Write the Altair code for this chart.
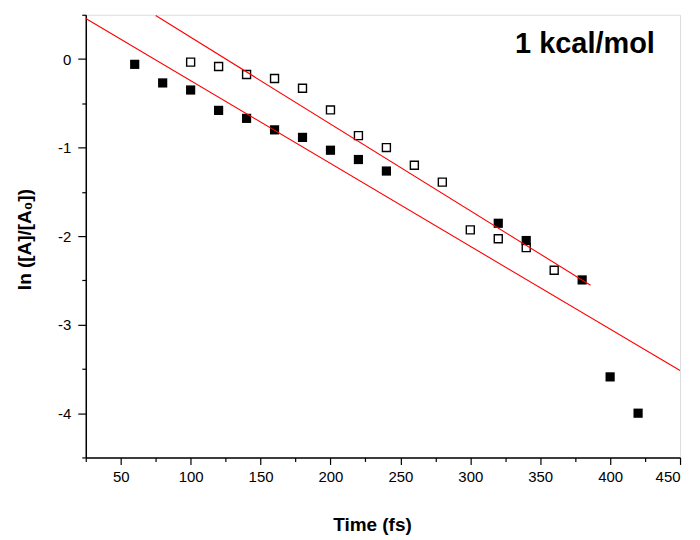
import altair as alt
import pandas as pd

# ---- data ----
time_filled = [60, 80, 100, 120, 140, 160, 180, 200, 220, 240, 320, 340, 380, 400, 420]
ln_filled = [-0.06, -0.27, -0.35, -0.58, -0.67, -0.80, -0.885, -1.03, -1.135, -1.265,
             -1.855, -2.05, -2.495, -3.59, -4.0]

time_open = [100, 120, 140, 160, 180, 200, 220, 240, 260, 280, 300, 320, 340, 360]
ln_open = [-0.035, -0.085, -0.175, -0.22, -0.33, -0.575, -0.865, -1.0, -1.2, -1.39,
           -1.93, -2.03, -2.13, -2.385]

fit_lower_time = [25, 450]
fit_lower_ln = [0.457, -3.518]
fit_upper_time = [75, 386]
fit_upper_ln = [0.491, -2.555]

label_text = ["1 kcal/mol"]
label_time = [332]
label_ln = [0.07]

x_major = [50, 100, 150, 200, 250, 300, 350, 400, 450]
x_minor = [25, 75, 125, 175, 225, 275, 325, 375, 425]
y_major = [0, -1, -2, -3, -4]
y_minor = [0.5, -0.5, -1.5, -2.5, -3.5, -4.5]

# ---- tables ----
df_filled = pd.DataFrame({"t": time_filled, "v": ln_filled})
df_open = pd.DataFrame({"t": time_open, "v": ln_open})
df_fit = pd.DataFrame({
    "t": fit_lower_time + fit_upper_time,
    "v": fit_lower_ln + fit_upper_ln,
    "fit": ["lower"] * len(fit_lower_time) + ["upper"] * len(fit_upper_time),
})
df_label = pd.DataFrame({"t": label_time, "v": label_ln, "txt": label_text})

FONT = "Liberation Sans"
x_scale = alt.Scale(domain=[25, 450], nice=False, zero=False)
y_scale = alt.Scale(domain=[-4.5, 0.5], nice=False, zero=False)

minus_fix = "replace(datum.label, '\u2212', '-')"

x_axis_major = alt.Axis(
    orient="bottom", values=x_major, grid=False,
    tickSize=7, tickWidth=1.2, tickColor="black",
    domainColor="black", domainWidth=1.5,
    labelFont=FONT, labelFontSize=15, labelColor="black", labelPadding=5,
    title="Time (fs)", titleFont=FONT, titleFontSize=19, titleFontWeight="bold",
    titleColor="black", titleX=287, titleY=58, titleAlign="center", titleBaseline="top",
)
y_axis_major = alt.Axis(
    orient="left", values=y_major, grid=False,
    tickSize=8, tickWidth=1.2, tickColor="black",
    domainColor="black", domainWidth=1.5,
    labelFont=FONT, labelFontSize=15, labelColor="black", labelPadding=7,
    labelExpr=minus_fix,
    title="ln ([A]/[A\u2080])", titleFont=FONT, titleFontSize=19, titleFontWeight="bold",
    titleColor="black", titleX=-61, titleY=225, titleAngle=-90,
    titleAlign="center", titleBaseline="middle",
)
x_axis_minor = alt.Axis(
    orient="bottom", values=x_minor, grid=False, labels=False, domain=False,
    tickSize=4, tickWidth=1.2, tickColor="black", title=None,
)
y_axis_minor = alt.Axis(
    orient="left", values=y_minor, grid=False, labels=False, domain=False,
    tickSize=4, tickWidth=1.2, tickColor="black", title=None,
)

filled = alt.Chart(df_filled).mark_point(
    shape="square", filled=True, size=85, color="black", opacity=1
).encode(
    x=alt.X("t:Q", scale=x_scale, axis=x_axis_major),
    y=alt.Y("v:Q", scale=y_scale, axis=y_axis_major),
)

opened = alt.Chart(df_open).mark_point(
    shape="square", filled=False, size=64, color="black", strokeWidth=1.4, opacity=1
).encode(
    x=alt.X("t:Q", scale=x_scale, axis=x_axis_minor),
    y=alt.Y("v:Q", scale=y_scale, axis=y_axis_minor),
)

fits = alt.Chart(df_fit).mark_line(color="#ff0000", strokeWidth=1.1, clip=True).encode(
    x=alt.X("t:Q", scale=x_scale, axis=None),
    y=alt.Y("v:Q", scale=y_scale, axis=None),
    detail="fit:N",
)

label = alt.Chart(df_label).mark_text(
    font=FONT, fontSize=29, fontWeight="bold", color="black",
    align="left", baseline="alphabetic",
).encode(
    x=alt.X("t:Q", scale=x_scale, axis=None),
    y=alt.Y("v:Q", scale=y_scale, axis=None),
    text="txt:N",
)

chart = alt.layer(filled, opened, fits, label).resolve_axis(
    x="independent", y="independent"
).properties(
    width=596, height=444,
    autosize=alt.AutoSizeParams(type="none"),
    padding={"left": 78, "top": 6, "right": 12, "bottom": 80},
).configure_view(stroke=None).configure(background="white")

chart.save("out.html", embed_options={"renderer": "svg", "actions": False})
